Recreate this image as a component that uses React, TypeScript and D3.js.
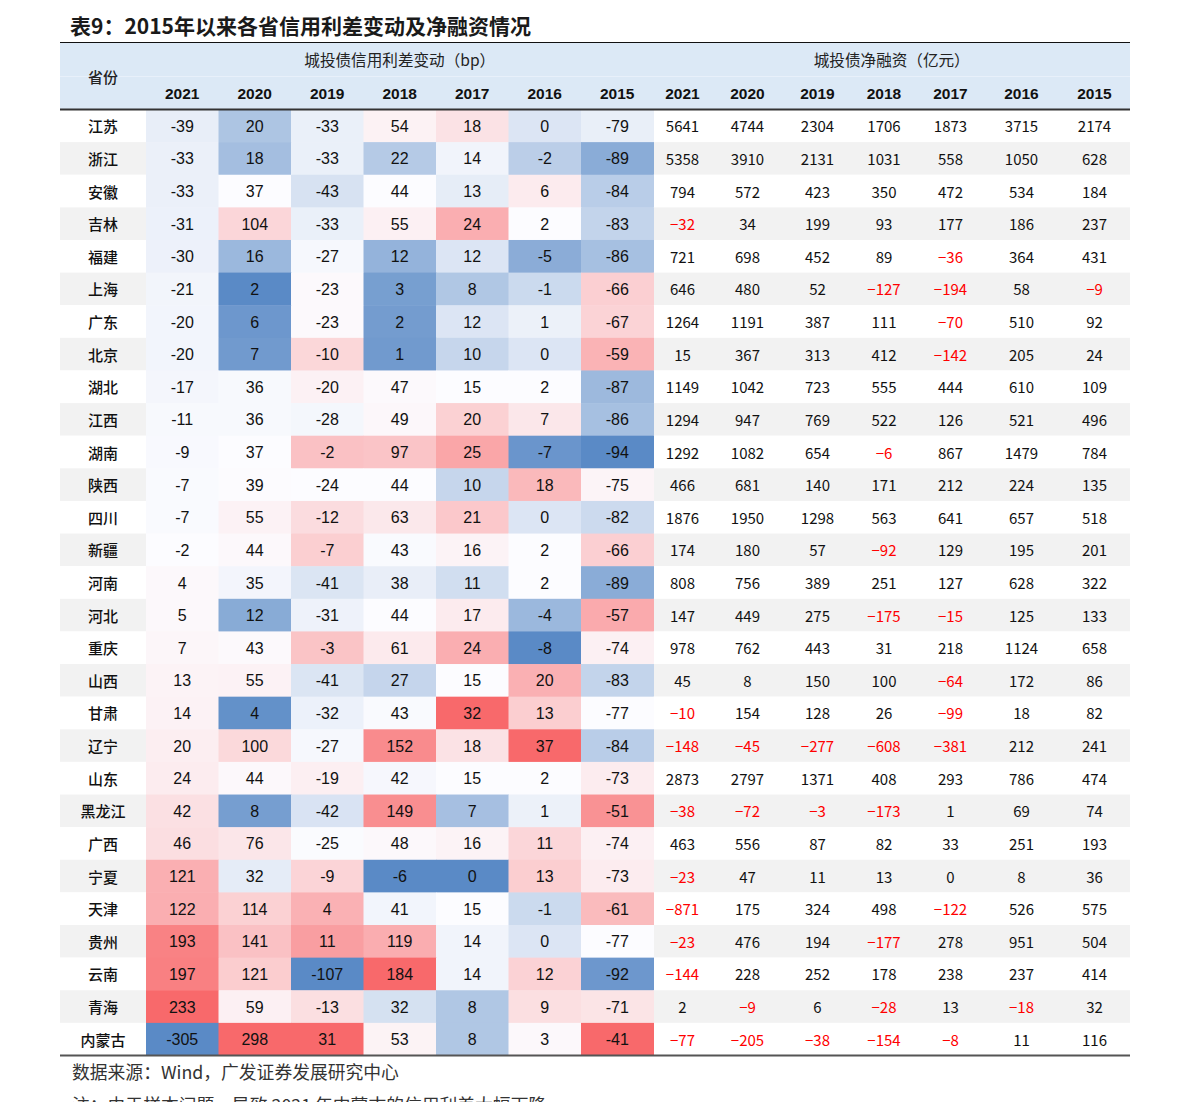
import React from "react";
import * as d3 from "d3";

const provinces = ["江苏", "浙江", "安徽", "吉林", "福建", "上海", "广东", "北京", "湖北", "江西", "湖南", "陕西", "四川", "新疆", "河南", "河北", "重庆", "山西", "甘肃", "辽宁", "山东", "黑龙江", "广西", "宁夏", "天津", "贵州", "云南", "青海", "内蒙古"];
const years = ["2021", "2020", "2019", "2018", "2017", "2016", "2015"];

// 城投债信用利差变动（bp），每个数组对应一个年份
const spread2021 = [-39, -33, -33, -31, -30, -21, -20, -20, -17, -11, -9, -7, -7, -2, 4, 5, 7, 13, 14, 20, 24, 42, 46, 121, 122, 193, 197, 233, -305];
const spread2020 = [20, 18, 37, 104, 16, 2, 6, 7, 36, 36, 37, 39, 55, 44, 35, 12, 43, 55, 4, 100, 44, 8, 76, 32, 114, 141, 121, 59, 298];
const spread2019 = [-33, -33, -43, -33, -27, -23, -23, -10, -20, -28, -2, -24, -12, -7, -41, -31, -3, -41, -32, -27, -19, -42, -25, -9, 4, 11, -107, -13, 31];
const spread2018 = [54, 22, 44, 55, 12, 3, 2, 1, 47, 49, 97, 44, 63, 43, 38, 44, 61, 27, 43, 152, 42, 149, 48, -6, 41, 119, 184, 32, 53];
const spread2017 = [18, 14, 13, 24, 12, 8, 12, 10, 15, 20, 25, 10, 21, 16, 11, 17, 24, 15, 32, 18, 15, 7, 16, 0, 15, 14, 14, 8, 8];
const spread2016 = [0, -2, 6, 2, -5, -1, 1, 0, 2, 7, -7, 18, 0, 2, 2, -4, -8, 20, 13, 37, 2, 1, 11, 13, -1, 0, 12, 9, 3];
const spread2015 = [-79, -89, -84, -83, -86, -66, -67, -59, -87, -86, -94, -75, -82, -66, -89, -57, -74, -83, -77, -84, -73, -51, -74, -73, -61, -77, -92, -71, -41];

// 城投债净融资（亿元）
const net2021 = [5641, 5358, 794, -32, 721, 646, 1264, 15, 1149, 1294, 1292, 466, 1876, 174, 808, 147, 978, 45, -10, -148, 2873, -38, 463, -23, -871, -23, -144, 2, -77];
const net2020 = [4744, 3910, 572, 34, 698, 480, 1191, 367, 1042, 947, 1082, 681, 1950, 180, 756, 449, 762, 8, 154, -45, 2797, -72, 556, 47, 175, 476, 228, -9, -205];
const net2019 = [2304, 2131, 423, 199, 452, 52, 387, 313, 723, 769, 654, 140, 1298, 57, 389, 275, 443, 150, 128, -277, 1371, -3, 87, 11, 324, 194, 252, 6, -38];
const net2018 = [1706, 1031, 350, 93, 89, -127, 111, 412, 555, 522, -6, 171, 563, -92, 251, -175, 31, 100, 26, -608, 408, -173, 82, 13, 498, -177, 178, -28, -154];
const net2017 = [1873, 558, 472, 177, -36, -194, -70, -142, 444, 126, 867, 212, 641, 129, 127, -15, 218, -64, -99, -381, 293, 1, 33, 0, -122, 278, 238, 13, -8];
const net2016 = [3715, 1050, 534, 186, 364, 58, 510, 205, 610, 521, 1479, 224, 657, 195, 628, 125, 1124, 172, 18, 212, 786, 69, 251, 8, 526, 951, 237, -18, 11];
const net2015 = [2174, 628, 184, 237, 431, -9, 92, 24, 109, 496, 784, 135, 518, 201, 322, 133, 658, 86, 82, 241, 474, 74, 193, 36, 575, 504, 414, 32, 116];

const spreadCols = [spread2021, spread2020, spread2019, spread2018, spread2017, spread2016, spread2015];
const netCols = [net2021, net2020, net2019, net2018, net2017, net2016, net2015];

const W = 1191;
const H = 1102;
const left = 60;
const right = 1130;
const provRight = 146;
const spreadRight = 653.5;
const netWidths = [58, 72, 68, 65, 68, 74, 72];
const headTop = 43;
const headBottom = 109.5;
const bodyBottom = 1055.5;

const cjk = "'Noto Sans CJK SC', 'Noto Sans', sans-serif";
const num = "'Liberation Sans', Arial, sans-serif";

export default function App() {
  const y = d3.scaleBand<string>().domain(provinces).range([headBottom, bodyBottom]);
  const xs = d3.scaleBand<string>().domain(years).range([provRight, spreadRight]);
  const netX: number[] = [];
  netWidths.reduce((acc, w) => {
    netX.push(acc);
    return acc + w;
  }, spreadRight);
  const rh = y.bandwidth();

  // Excel 风格的三色刻度：最小值-中位数-最大值
  const colorScales = spreadCols.map((vals) => {
    const mn = d3.min(vals) as number;
    const mx = d3.max(vals) as number;
    const md = d3.median(vals) as number;
    return d3
      .scaleLinear<string>()
      .domain([mn, md, mx])
      .range(["#5A8AC6", "#FCFCFF", "#F8696B"])
      .interpolate(d3.interpolateRgb);
  });

  const fmtNet = (v: number) => (v < 0 ? "\u2212" + Math.abs(v) : String(v));

  return (
    <svg
      width={W}
      height={H}
      style={{ position: "absolute", left: 0, top: 0, background: "#fff" }}
    >
      <text x={70} y={34} fontFamily={cjk} fontWeight={700} fontSize={21} fill="#1a1a1a">
        表9：2015年以来各省信用利差变动及净融资情况
      </text>

      {/* header */}
      <rect x={left} y={headTop} width={right - left} height={headBottom - headTop} fill="#dce9f6" />
      <line x1={left} x2={right} y1={76.5} y2={76.5} stroke="#e8f0fa" strokeWidth={1} />
      <line x1={left} x2={right} y1={42.5} y2={42.5} stroke="#111" strokeWidth={1.2} />
      <text x={(left + provRight) / 2} y={76} fontFamily={cjk} fontSize={15} fontWeight={500} textAnchor="middle" dominantBaseline="central" fill="#222">
        省份
      </text>
      <text x={(provRight + spreadRight) / 2} y={59} fontFamily={cjk} fontSize={15.6} textAnchor="middle" dominantBaseline="central" fill="#222">
        城投债信用利差变动（bp）
      </text>
      <text x={(spreadRight + right) / 2} y={59} fontFamily={cjk} fontSize={15.6} textAnchor="middle" dominantBaseline="central" fill="#222">
        城投债净融资（亿元）
      </text>
      {years.map((yr) => (
        <text key={"hs" + yr} x={(xs(yr) as number) + xs.bandwidth() / 2} y={93} fontFamily={num} fontWeight={700} fontSize={15.5} textAnchor="middle" dominantBaseline="central" fill="#111">
          {yr}
        </text>
      ))}
      {years.map((yr, i) => (
        <text key={"hn" + yr} x={netX[i] + netWidths[i] / 2} y={93} fontFamily={num} fontWeight={700} fontSize={15.5} textAnchor="middle" dominantBaseline="central" fill="#111">
          {yr}
        </text>
      ))}

      {/* body */}
      {provinces.map((p, r) => {
        const top = y(p) as number;
        const cy = top + rh / 2;
        const stripe = r % 2 === 1 ? "#f2f2f2" : "#ffffff";
        return (
          <g key={p}>
            <rect x={left} y={top} width={provRight - left} height={rh} fill={stripe} />
            <rect x={spreadRight} y={top} width={right - spreadRight} height={rh} fill={stripe} />
            <text x={(left + provRight) / 2} y={cy} fontFamily={cjk} fontSize={15} fontWeight={500} textAnchor="middle" dominantBaseline="central" fill="#111">
              {p}
            </text>
            {years.map((yr, c) => {
              const v = spreadCols[c][r];
              const x0 = xs(yr) as number;
              return (
                <g key={"s" + yr}>
                  <rect x={x0} y={top} width={xs.bandwidth() + 0.5} height={rh + 0.5} fill={colorScales[c](v)} />
                  <text x={x0 + xs.bandwidth() / 2} y={cy + 0.5} fontFamily={num} fontSize={16} textAnchor="middle" dominantBaseline="central" fill="#111">
                    {v}
                  </text>
                </g>
              );
            })}
            {years.map((yr, c) => {
              const v = netCols[c][r];
              return (
                <text key={"n" + yr} x={netX[c] + netWidths[c] / 2} y={cy} fontFamily={cjk} fontSize={15} textAnchor="middle" dominantBaseline="central" fill={v < 0 ? "#ff0000" : "#111"}>
                  {fmtNet(v)}
                </text>
              );
            })}
          </g>
        );
      })}

      <line x1={left} x2={right} y1={headBottom} y2={headBottom} stroke="#333" strokeWidth={2} />
      <line x1={left} x2={right} y1={bodyBottom} y2={bodyBottom} stroke="#555" strokeWidth={2} />

      <text x={72} y={1079} fontFamily={cjk} fontSize={17.8} fill="#333">
        数据来源：Wind，广发证券发展研究中心
      </text>
      <text x={72} y={1112} fontFamily={cjk} fontSize={17.8} fill="#333">
        注：由于样本问题，导致 2021 年内蒙古的信用利差大幅下降
      </text>
    </svg>
  );
}
